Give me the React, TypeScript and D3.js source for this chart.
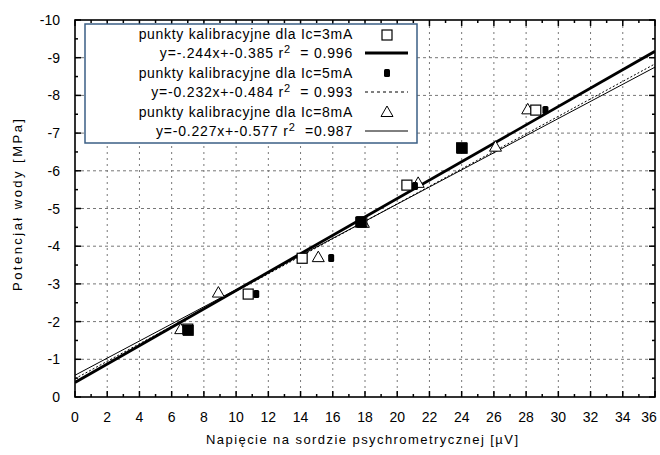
import React from "react";
import * as d3 from "d3";

const xTicks = d3.range(0, 37, 2);
const yTicks = d3.range(0, -11, -1);

// Ic=3mA open squares
const pts3 = [
  { x: 7.0, y: -1.8 },
  { x: 10.75, y: -2.73 },
  { x: 14.1, y: -3.68 },
  { x: 17.8, y: -4.65 },
  { x: 20.6, y: -5.62 },
  { x: 24.0, y: -6.61 },
  { x: 28.6, y: -7.61 },
];
// Ic=5mA filled points
const pts5 = [
  { x: 11.25, y: -2.73 },
  { x: 15.9, y: -3.69 },
  { x: 21.1, y: -5.6 },
  { x: 29.2, y: -7.61 },
];
// big filled squares (overlapping points)
const ptsFilled = [
  { x: 7.0, y: -1.78 },
  { x: 17.7, y: -4.65 },
  { x: 24.0, y: -6.61 },
];
// Ic=8mA triangles
const pts8 = [
  { x: 6.56, y: -1.8 },
  { x: 8.9, y: -2.77 },
  { x: 15.1, y: -3.71 },
  { x: 17.9, y: -4.62 },
  { x: 21.3, y: -5.68 },
  { x: 26.1, y: -6.64 },
  { x: 28.1, y: -7.63 },
];

const fits = [
  { a: -0.244, b: -0.385, width: 2.8, dash: "" },
  { a: -0.232, b: -0.484, width: 1, dash: "2,2" },
  { a: -0.227, b: -0.577, width: 1, dash: "" },
];

const legendLabels = [
  "punkty kalibracyjne dla Ic=3mA",
  "y=-.244x+-0.385 r|2|  = 0.996",
  "punkty kalibracyjne dla Ic=5mA",
  "y=-0.232x+-0.484 r|2|  = 0.993",
  "punkty kalibracyjne dla Ic=8mA",
  "y=-0.227x+-0.577 r|2|  =0.987",
];

const W = 660, H = 455;
const L = 75, R = 655, T = 20, B = 397;

export default function App() {
  const x = d3.scaleLinear().domain([0, 36]).range([L, R]);
  const y = d3.scaleLinear().domain([0, -10]).range([B, T]);
  const font = "'Liberation Sans', Arial, sans-serif";

  const xMinor = d3.range(1, 36, 2);
  const yMinor = d3.range(-0.5, -10, -1);

  const tri = (cx: number, cy: number, s = 6) =>
    `M${cx},${cy - s} L${cx + s},${cy + s * 0.75} L${cx - s},${cy + s * 0.75} Z`;

  return (
    <svg width={W} height={H} style={{ display: "block", position: "absolute", left: 0, top: 0 }} fontFamily={font}>
      <rect width={W} height={H} fill="#fff" />
      {/* grid */}
      {xTicks.slice(1, -1).map((t) => (
        <line key={"gx" + t} x1={x(t)} x2={x(t)} y1={T} y2={B} stroke="#777" strokeWidth={1} strokeDasharray="2,4" />
      ))}
      {yTicks.slice(1, -1).map((t) => (
        <line key={"gy" + t} x1={L} x2={R} y1={y(t)} y2={y(t)} stroke="#777" strokeWidth={1} strokeDasharray="3,3" />
      ))}
      {/* ticks */}
      {xTicks.map((t) => (
        <g key={"tx" + t}>
          <line x1={x(t)} x2={x(t)} y1={B} y2={B - 6} stroke="#000" strokeWidth={1.5} />
          <line x1={x(t)} x2={x(t)} y1={T} y2={T + 6} stroke="#000" strokeWidth={1.5} />
          <text x={t === 36 ? x(t) - 6 : x(t)} y={B + 25} fontSize={14} textAnchor="middle" fill="#000">{t}</text>
        </g>
      ))}
      {xMinor.map((t) => (
        <g key={"mx" + t}>
          <line x1={x(t)} x2={x(t)} y1={B} y2={B - 3} stroke="#000" strokeWidth={1.5} />
          <line x1={x(t)} x2={x(t)} y1={T} y2={T + 3} stroke="#000" strokeWidth={1.5} />
        </g>
      ))}
      {yTicks.map((t) => (
        <g key={"ty" + t}>
          <line x1={L} x2={L + 6} y1={y(t)} y2={y(t)} stroke="#000" strokeWidth={1.5} />
          <line x1={R} x2={R - 6} y1={y(t)} y2={y(t)} stroke="#000" strokeWidth={1.5} />
          <text x={60} y={y(t) + 5} fontSize={14} textAnchor="end" fill="#000">{t === 0 ? "0" : String(t)}</text>
        </g>
      ))}
      {yMinor.map((t) => (
        <g key={"my" + t}>
          <line x1={L} x2={L + 3} y1={y(t)} y2={y(t)} stroke="#000" strokeWidth={1.5} />
          <line x1={R} x2={R - 3} y1={y(t)} y2={y(t)} stroke="#000" strokeWidth={1.5} />
        </g>
      ))}
      <defs>
        <clipPath id="plot"><rect x={L} y={T} width={R - L} height={B - T} /></clipPath>
      </defs>
      {/* fit lines */}
      <g clipPath="url(#plot)">
        {fits.map((f, i) => (
          <line key={"f" + i} x1={x(0)} y1={y(f.b)} x2={x(36)} y2={y(f.a * 36 + f.b)}
            stroke="#000" strokeWidth={f.width} strokeDasharray={f.dash || undefined} />
        ))}
      </g>
      {/* points */}
      {pts8.map((p, i) => (
        <path key={"t" + i} d={tri(x(p.x), y(p.y))} fill="#fff" stroke="#000" strokeWidth={1} />
      ))}
      {pts3.map((p, i) => (
        <rect key={"s" + i} x={x(p.x) - 5} y={y(p.y) - 5} width={10} height={10} fill="#fff" stroke="#000" strokeWidth={1.2} />
      ))}
      {ptsFilled.map((p, i) => (
        <rect key={"fs" + i} x={x(p.x) - 5} y={y(p.y) - 5} width={11} height={11} fill="#000" />
      ))}
      {pts5.map((p, i) => (
        <rect key={"c" + i} x={x(p.x) - 3} y={y(p.y) - 4} width={6} height={8} rx={1.5} fill="#000" />
      ))}
      {/* frame */}
      <rect x={L} y={T} width={R - L} height={B - T} fill="none" stroke="#000" strokeWidth={1.6} />
      {/* legend */}
      <rect x={85} y={24} width={332} height={119} fill="#fff" stroke="#3b5f85" strokeWidth={1.5} />
      {legendLabels.map((s, i) => {
        const parts = s.split("|");
        const yy = 39 + i * 19.4;
        return (
          <text key={"l" + i} x={353} y={yy} fontSize={14} letterSpacing={parts.length === 1 ? 0.7 : 0.8} textAnchor="end" fill="#000" style={{ whiteSpace: "pre" }}>
            {parts.length === 1 ? s : (
              <>
                {parts[0]}
                <tspan dy={-5} fontSize={11}>{parts[1]}</tspan>
                <tspan dy={5}>{parts[2]}</tspan>
              </>
            )}
          </text>
        );
      })}
      <rect x={382} y={30} width={10} height={10} fill="#fff" stroke="#000" strokeWidth={1.2} />
      <line x1={365} x2={408} y1={53} y2={53} stroke="#000" strokeWidth={2.8} />
      <rect x={384} y={69} width={6} height={8} rx={1.5} fill="#000" />
      <line x1={365} x2={408} y1={92} y2={92} stroke="#000" strokeWidth={1} strokeDasharray="3,3" />
      <path d={tri(387, 112)} fill="#fff" stroke="#000" strokeWidth={1} />
      <line x1={365} x2={408} y1={131} y2={131} stroke="#000" strokeWidth={1} />
      {/* axis titles */}
      <text x={362} y={444} fontSize={13} textAnchor="middle" fill="#000" textLength={312} lengthAdjust="spacing">Napięcie na sordzie psychrometrycznej [µV]</text>
      <text transform={`translate(22,${205}) rotate(-90)`} fontSize={13} textAnchor="middle" fill="#000" textLength={172} lengthAdjust="spacing">Potencjał wody [MPa]</text>
    </svg>
  );
}
